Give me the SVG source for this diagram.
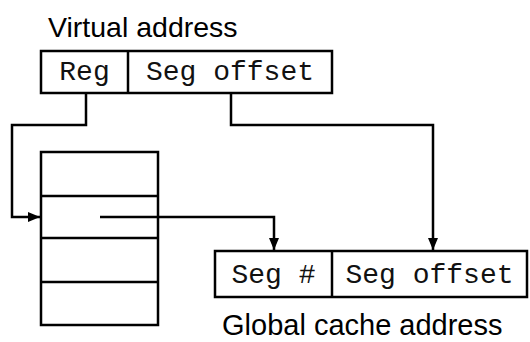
<svg xmlns="http://www.w3.org/2000/svg" width="530" height="342" viewBox="0 0 530 342">
<style>
.box{fill:none;stroke:#000;stroke-width:2.5}
.ln{fill:none;stroke:#000;stroke-width:2.5}
.lbl{font-family:"Liberation Sans",Arial,sans-serif;font-size:28.5px;fill:#000}
.mono{font-family:"Liberation Mono","Courier New",monospace;font-size:28px;fill:#111;text-anchor:middle}
</style>
<defs>
<marker id="arr" markerUnits="userSpaceOnUse" markerWidth="14" markerHeight="10" refX="12" refY="5" orient="auto">
<path d="M0,0 L12,5 L0,10 Z" fill="#000"/>
</marker>
</defs>
<rect width="530" height="342" fill="#fff"/>
<g id="virtual-address">
<text class="lbl" x="48" y="37">Virtual address</text>
<rect class="box" x="41" y="51" width="291" height="42"/>
<line class="ln" x1="128" y1="51" x2="128" y2="93"/>
<text class="mono" x="84.5" y="80">Reg</text>
<text class="mono" x="230" y="80">Seg offset</text>
</g>
<g id="segment-table">
<rect class="box" x="41" y="152" width="117" height="173"/>
<line class="ln" x1="41" y1="196" x2="158" y2="196"/>
<line class="ln" x1="41" y1="238" x2="158" y2="238"/>
<line class="ln" x1="41" y1="282" x2="158" y2="282"/>
</g>
<g id="global-cache-address">
<rect class="box" x="215" y="251" width="312" height="46"/>
<line class="ln" x1="332" y1="251" x2="332" y2="297"/>
<text class="mono" x="273.5" y="283">Seg #</text>
<text class="mono" x="429.5" y="283">Seg offset</text>
<text class="lbl" x="222" y="335" style="font-size:29px">Global cache address</text>
</g>
<g id="connectors">
<polyline class="ln" points="86,93 86,125 12,125 12,217 40,217" marker-end="url(#arr)"/>
<polyline class="ln" points="231,93 231,125 433,125 433,250" marker-end="url(#arr)"/>
<polyline class="ln" points="100,217 274,217 274,250" marker-end="url(#arr)"/>
</g>
</svg>
